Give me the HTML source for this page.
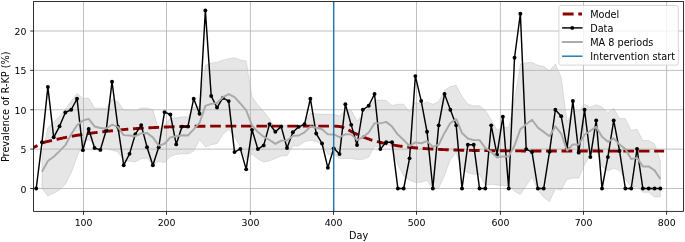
<!DOCTYPE html>
<html><head><meta charset="utf-8"><title>chart</title><style>html,body{margin:0;padding:0;background:#fff}svg{display:block}</style></head><body>
<svg width="685" height="242" viewBox="0 0 685 242" font-family="DejaVu Sans, Liberation Sans, sans-serif" font-size="9.7" fill="#000">
<rect width="685" height="242" fill="#fff"/>
<clipPath id="c"><rect x="33.6" y="1.5" width="649.9" height="209.85"/></clipPath>
<g clip-path="url(#c)">
<path d="M42.03,154.64 L47.87,127.86 L53.70,121.96 L59.53,116.44 L65.37,108.96 L71.20,101.32 L77.03,93.61 L82.87,98.27 L88.70,98.02 L94.53,107.97 L100.37,108.01 L106.20,108.51 L112.03,99.03 L117.87,101.87 L123.70,109.81 L129.53,109.92 L135.37,110.69 L141.20,108.05 L147.03,107.95 L152.87,109.93 L158.70,129.75 L164.53,124.90 L170.37,118.28 L176.20,117.99 L182.03,116.73 L187.87,117.02 L193.70,107.70 L199.53,106.35 L205.37,65.08 L211.20,63.01 L217.03,62.34 L222.87,60.13 L228.70,58.77 L234.53,57.70 L240.37,59.92 L246.20,60.97 L252.03,96.70 L257.87,105.02 L263.70,111.36 L269.53,119.04 L275.37,129.15 L281.20,125.27 L287.03,125.22 L292.87,125.86 L298.70,125.18 L304.53,123.07 L310.37,112.93 L316.20,113.95 L322.03,114.34 L327.87,114.29 L333.70,114.30 L339.53,115.91 L345.37,110.21 L351.20,110.31 L357.03,120.78 L362.87,115.02 L368.70,107.97 L374.53,100.09 L380.37,100.06 L386.20,100.52 L392.03,105.53 L397.87,104.25 L403.70,104.16 L409.53,112.02 L415.37,102.22 L421.20,104.22 L427.03,101.95 L432.87,104.27 L438.70,101.49 L444.53,90.44 L450.37,86.60 L456.20,85.27 L462.03,96.44 L467.87,104.19 L473.70,105.86 L479.53,105.86 L485.37,110.52 L491.20,119.61 L497.03,130.05 L502.87,127.39 L508.70,127.39 L514.53,99.97 L520.37,63.94 L526.20,62.75 L532.03,62.43 L537.87,65.31 L543.70,66.37 L549.53,70.73 L555.37,64.03 L561.20,77.39 L567.03,121.90 L572.87,110.90 L578.70,110.95 L584.53,104.44 L590.37,107.19 L596.20,104.68 L602.03,107.02 L607.87,112.65 L613.70,108.38 L619.53,118.60 L625.37,118.76 L631.20,130.47 L637.03,129.22 L642.87,140.49 L648.70,140.49 L654.53,143.66 L660.37,160.98 L660.37,196.72 L654.53,197.01 L648.70,192.33 L642.87,192.33 L637.03,186.57 L631.20,187.37 L625.37,179.39 L619.53,170.60 L613.70,168.31 L607.87,171.03 L602.03,166.45 L596.20,149.10 L590.37,154.41 L584.53,165.00 L578.70,178.18 L572.87,178.10 L567.03,179.15 L561.20,189.99 L555.37,188.75 L549.53,201.73 L543.70,197.35 L537.87,189.95 L532.03,177.04 L526.20,185.81 L520.37,194.47 L514.53,191.19 L508.70,185.50 L502.87,185.50 L497.03,185.01 L491.20,184.23 L485.37,185.49 L479.53,174.35 L473.70,174.35 L467.87,172.80 L462.03,169.61 L456.20,152.67 L450.37,159.59 L444.53,175.45 L438.70,188.02 L432.87,189.45 L427.03,180.20 L421.20,182.26 L415.37,182.52 L409.53,180.15 L403.70,175.86 L397.87,164.88 L392.03,147.70 L386.20,143.22 L380.37,146.64 L374.53,146.42 L368.70,157.01 L362.87,159.37 L357.03,159.55 L351.20,158.47 L345.37,158.43 L339.53,158.38 L333.70,154.54 L327.87,154.45 L322.03,144.08 L316.20,141.56 L310.37,140.22 L304.53,141.75 L298.70,145.85 L292.87,145.91 L287.03,155.82 L281.20,156.01 L275.37,158.50 L269.53,160.94 L263.70,162.08 L257.87,158.97 L252.03,154.00 L246.20,159.91 L240.37,147.04 L234.53,136.72 L228.70,129.27 L222.87,134.29 L217.03,143.70 L211.20,144.73 L205.37,146.70 L199.53,139.59 L193.70,151.12 L187.87,153.90 L182.03,153.82 L176.20,154.45 L170.37,156.52 L164.53,162.58 L158.70,161.37 L152.87,164.85 L147.03,158.11 L141.20,158.70 L135.37,161.77 L129.53,161.26 L123.70,160.45 L117.87,151.77 L112.03,150.37 L106.20,148.55 L100.37,148.05 L94.53,144.94 L88.70,139.63 L82.87,142.67 L77.03,156.91 L71.20,172.75 L65.37,184.17 L59.53,190.07 L53.70,193.22 L47.87,195.98 L42.03,188.50Z" fill="#808080" fill-opacity="0.2" stroke="#808080" stroke-opacity="0.2" stroke-width="1" stroke-linejoin="miter"/>
<line x1="83.5" x2="83.5" y1="1.5" y2="211.35" stroke="#b0b0b0" stroke-width="0.8"/>
<line x1="166.5" x2="166.5" y1="1.5" y2="211.35" stroke="#b0b0b0" stroke-width="0.8"/>
<line x1="250.4" x2="250.4" y1="1.5" y2="211.35" stroke="#b0b0b0" stroke-width="0.8"/>
<line x1="333.5" x2="333.5" y1="1.5" y2="211.35" stroke="#b0b0b0" stroke-width="0.8"/>
<line x1="416.5" x2="416.5" y1="1.5" y2="211.35" stroke="#b0b0b0" stroke-width="0.8"/>
<line x1="500.4" x2="500.4" y1="1.5" y2="211.35" stroke="#b0b0b0" stroke-width="0.8"/>
<line x1="583.5" x2="583.5" y1="1.5" y2="211.35" stroke="#b0b0b0" stroke-width="0.8"/>
<line x1="666.6" x2="666.6" y1="1.5" y2="211.35" stroke="#b0b0b0" stroke-width="0.8"/>
<line x1="33.6" x2="683.5" y1="188.50" y2="188.50" stroke="#b0b0b0" stroke-width="0.8"/>
<line x1="33.6" x2="683.5" y1="149.12" y2="149.12" stroke="#b0b0b0" stroke-width="0.8"/>
<line x1="33.6" x2="683.5" y1="109.75" y2="109.75" stroke="#b0b0b0" stroke-width="0.8"/>
<line x1="33.6" x2="683.5" y1="70.38" y2="70.38" stroke="#b0b0b0" stroke-width="0.8"/>
<line x1="33.6" x2="683.5" y1="31.00" y2="31.00" stroke="#b0b0b0" stroke-width="0.8"/>
<path d="M29.13,150.01 L29.97,149.56 L30.80,149.11 L31.63,148.66 L32.47,148.22 L33.30,147.77 L34.13,147.32 L34.97,146.86 L35.80,146.38 L36.63,145.89 L37.47,145.40 L38.30,144.93 L39.13,144.47 L39.97,144.03 L40.80,143.63 L41.63,143.27 L42.47,142.95 L43.30,142.67 L44.13,142.41 L44.97,142.16 L45.80,141.93 L46.63,141.71 L47.47,141.50 L48.30,141.30 L49.13,141.10 L49.97,140.91 L50.80,140.73 L51.63,140.54 L52.47,140.36 L53.30,140.17 L54.13,139.99 L54.97,139.79 L55.80,139.60 L56.63,139.41 L57.47,139.22 L58.30,139.03 L59.13,138.85 L59.97,138.67 L60.80,138.49 L61.63,138.31 L62.47,138.13 L63.30,137.95 L64.13,137.78 L64.97,137.61 L65.80,137.44 L66.63,137.27 L67.47,137.11 L68.30,136.94 L69.13,136.78 L69.97,136.62 L70.80,136.45 L71.63,136.30 L72.47,136.14 L73.30,135.98 L74.13,135.83 L74.97,135.68 L75.80,135.53 L76.63,135.38 L77.47,135.23 L78.30,135.09 L79.13,134.95 L79.97,134.82 L80.80,134.68 L81.63,134.55 L82.47,134.42 L83.30,134.29 L84.13,134.17 L84.97,134.04 L85.80,133.92 L86.63,133.80 L87.47,133.68 L88.30,133.56 L89.13,133.44 L89.97,133.33 L90.80,133.22 L91.63,133.10 L92.47,132.99 L93.30,132.89 L94.13,132.78 L94.97,132.67 L95.80,132.57 L96.63,132.47 L97.47,132.37 L98.30,132.27 L99.13,132.17 L99.97,132.07 L100.80,131.97 L101.63,131.88 L102.47,131.78 L103.30,131.69 L104.13,131.59 L104.97,131.50 L105.80,131.41 L106.63,131.31 L107.47,131.22 L108.30,131.13 L109.13,131.05 L109.97,130.96 L110.80,130.87 L111.63,130.78 L112.47,130.70 L113.30,130.61 L114.13,130.52 L114.97,130.44 L115.80,130.35 L116.63,130.26 L117.47,130.17 L118.30,130.08 L119.13,130.00 L119.97,129.91 L120.80,129.82 L121.63,129.74 L122.47,129.65 L123.30,129.57 L124.13,129.49 L124.97,129.41 L125.80,129.34 L126.63,129.26 L127.47,129.19 L128.30,129.12 L129.13,129.06 L129.97,128.99 L130.80,128.93 L131.63,128.87 L132.47,128.81 L133.30,128.75 L134.13,128.69 L134.97,128.64 L135.80,128.58 L136.63,128.52 L137.47,128.47 L138.30,128.42 L139.13,128.36 L139.97,128.31 L140.80,128.26 L141.63,128.21 L142.47,128.16 L143.30,128.11 L144.13,128.06 L144.97,128.02 L145.80,127.97 L146.63,127.93 L147.47,127.88 L148.30,127.84 L149.13,127.79 L149.97,127.75 L150.80,127.71 L151.63,127.67 L152.47,127.63 L153.30,127.59 L154.13,127.55 L154.97,127.51 L155.80,127.47 L156.63,127.43 L157.47,127.39 L158.30,127.36 L159.13,127.32 L159.97,127.28 L160.80,127.25 L161.63,127.21 L162.47,127.17 L163.30,127.14 L164.13,127.10 L164.97,127.07 L165.80,127.04 L166.63,127.00 L167.47,126.97 L168.30,126.94 L169.13,126.91 L169.97,126.88 L170.80,126.85 L171.63,126.82 L172.47,126.79 L173.30,126.76 L174.13,126.74 L174.97,126.71 L175.80,126.69 L176.63,126.66 L177.47,126.64 L178.30,126.62 L179.13,126.60 L179.97,126.58 L180.80,126.55 L181.63,126.53 L182.47,126.51 L183.30,126.49 L184.13,126.47 L184.97,126.45 L185.80,126.43 L186.63,126.41 L187.47,126.40 L188.30,126.38 L189.13,126.36 L189.97,126.34 L190.80,126.33 L191.63,126.31 L192.47,126.30 L193.30,126.28 L194.13,126.27 L194.97,126.26 L195.80,126.25 L196.63,126.24 L197.47,126.23 L198.30,126.22 L199.13,126.21 L199.97,126.21 L200.80,126.20 L201.63,126.20 L202.47,126.20 L203.30,126.19 L204.13,126.19 L204.97,126.18 L205.80,126.18 L206.63,126.18 L207.47,126.17 L208.30,126.17 L209.13,126.16 L209.97,126.16 L210.80,126.16 L211.63,126.16 L212.47,126.15 L213.30,126.15 L214.13,126.15 L214.97,126.14 L215.80,126.14 L216.63,126.14 L217.47,126.14 L218.30,126.14 L219.13,126.14 L219.97,126.13 L220.80,126.13 L221.63,126.13 L222.47,126.13 L223.30,126.13 L224.13,126.13 L224.97,126.13 L225.80,126.13 L226.63,126.13 L227.47,126.13 L228.30,126.13 L229.13,126.13 L229.97,126.13 L230.80,126.13 L231.63,126.13 L232.47,126.13 L233.30,126.13 L234.13,126.13 L234.97,126.13 L235.80,126.13 L236.63,126.13 L237.47,126.13 L238.30,126.13 L239.13,126.13 L239.97,126.13 L240.80,126.13 L241.63,126.13 L242.47,126.13 L243.30,126.13 L244.13,126.13 L244.97,126.13 L245.80,126.13 L246.63,126.13 L247.47,126.13 L248.30,126.13 L249.13,126.13 L249.97,126.13 L250.80,126.13 L251.63,126.13 L252.47,126.13 L253.30,126.13 L254.13,126.13 L254.97,126.13 L255.80,126.13 L256.63,126.13 L257.47,126.13 L258.30,126.13 L259.13,126.13 L259.97,126.13 L260.80,126.13 L261.63,126.13 L262.47,126.13 L263.30,126.13 L264.13,126.13 L264.97,126.13 L265.80,126.13 L266.63,126.13 L267.47,126.13 L268.30,126.13 L269.13,126.13 L269.97,126.13 L270.80,126.13 L271.63,126.13 L272.47,126.13 L273.30,126.13 L274.13,126.13 L274.97,126.13 L275.80,126.13 L276.63,126.13 L277.47,126.13 L278.30,126.13 L279.13,126.13 L279.97,126.13 L280.80,126.13 L281.63,126.13 L282.47,126.13 L283.30,126.13 L284.13,126.13 L284.97,126.13 L285.80,126.13 L286.63,126.13 L287.47,126.13 L288.30,126.13 L289.13,126.13 L289.97,126.13 L290.80,126.13 L291.63,126.13 L292.47,126.13 L293.30,126.13 L294.13,126.13 L294.97,126.13 L295.80,126.13 L296.63,126.13 L297.47,126.13 L298.30,126.13 L299.13,126.13 L299.97,126.13 L300.80,126.13 L301.63,126.13 L302.47,126.13 L303.30,126.13 L304.13,126.13 L304.97,126.13 L305.80,126.13 L306.63,126.13 L307.47,126.13 L308.30,126.13 L309.13,126.13 L309.97,126.13 L310.80,126.13 L311.63,126.13 L312.47,126.13 L313.30,126.13 L314.13,126.13 L314.97,126.13 L315.80,126.13 L316.63,126.13 L317.47,126.13 L318.30,126.13 L319.13,126.13 L319.97,126.13 L320.80,126.13 L321.63,126.13 L322.47,126.13 L323.30,126.13 L324.13,126.13 L324.97,126.13 L325.80,126.13 L326.63,126.13 L327.47,126.13 L328.30,126.13 L329.13,126.13 L329.97,126.13 L330.80,126.13 L331.63,126.13 L332.47,126.14 L333.30,126.14 L334.13,126.15 L334.97,126.17 L335.80,126.19 L336.63,126.23 L337.47,126.28 L338.30,126.36 L339.13,126.46 L339.97,126.59 L340.80,126.75 L341.63,126.96 L342.47,127.20 L343.30,127.49 L344.13,127.81 L344.97,128.17 L345.80,128.56 L346.63,128.97 L347.47,129.40 L348.30,129.85 L349.13,130.30 L349.97,130.75 L350.80,131.20 L351.63,131.65 L352.47,132.09 L353.30,132.52 L354.13,132.95 L354.97,133.36 L355.80,133.77 L356.63,134.17 L357.47,134.56 L358.30,134.94 L359.13,135.31 L359.97,135.67 L360.80,136.03 L361.63,136.37 L362.47,136.71 L363.30,137.04 L364.13,137.36 L364.97,137.68 L365.80,137.99 L366.63,138.38 L367.47,138.67 L368.30,138.95 L369.13,139.23 L369.97,139.51 L370.80,139.77 L371.63,140.03 L372.47,140.29 L373.30,140.53 L374.13,140.78 L374.97,141.01 L375.80,141.25 L376.63,141.47 L377.47,141.69 L378.30,141.91 L379.13,142.12 L379.97,142.33 L380.80,142.53 L381.63,142.73 L382.47,142.92 L383.30,143.11 L384.13,143.29 L384.97,143.47 L385.80,143.64 L386.63,143.82 L387.47,143.98 L388.30,144.15 L389.13,144.31 L389.97,144.46 L390.80,144.61 L391.63,144.76 L392.47,144.91 L393.30,145.05 L394.13,145.19 L394.97,145.33 L395.80,145.46 L396.63,145.59 L397.47,145.71 L398.30,145.84 L399.13,145.96 L399.97,146.08 L400.80,146.19 L401.63,146.31 L402.47,146.42 L403.30,146.52 L404.13,146.63 L404.97,146.73 L405.80,146.83 L406.63,146.93 L407.47,147.02 L408.30,147.12 L409.13,147.21 L409.97,147.30 L410.80,147.39 L411.63,147.47 L412.47,147.55 L413.30,147.64 L414.13,147.72 L414.97,147.79 L415.80,147.87 L416.63,147.94 L417.47,148.02 L418.30,148.09 L419.13,148.16 L419.97,148.22 L420.80,148.29 L421.63,148.35 L422.47,148.42 L423.30,148.48 L424.13,148.54 L424.97,148.60 L425.80,148.65 L426.63,148.71 L427.47,148.76 L428.30,148.82 L429.13,148.87 L429.97,148.92 L430.80,148.97 L431.63,149.02 L432.47,149.07 L433.30,149.11 L434.13,149.16 L434.97,149.20 L435.80,149.25 L436.63,149.29 L437.47,149.33 L438.30,149.37 L439.13,149.41 L439.97,149.45 L440.80,149.49 L441.63,149.53 L442.47,149.56 L443.30,149.60 L444.13,149.63 L444.97,149.66 L445.80,149.70 L446.63,149.73 L447.47,149.76 L448.30,149.79 L449.13,149.82 L449.97,149.85 L450.80,149.88 L451.63,149.91 L452.47,149.93 L453.30,149.96 L454.13,149.99 L454.97,150.01 L455.80,150.04 L456.63,150.06 L457.47,150.09 L458.30,150.11 L459.13,150.13 L459.97,150.15 L460.80,150.18 L461.63,150.20 L462.47,150.22 L463.30,150.24 L464.13,150.26 L464.97,150.28 L465.80,150.29 L466.63,150.31 L467.47,150.33 L468.30,150.35 L469.13,150.37 L469.97,150.38 L470.80,150.40 L471.63,150.41 L472.47,150.43 L473.30,150.45 L474.13,150.46 L474.97,150.48 L475.80,150.49 L476.63,150.50 L477.47,150.52 L478.30,150.53 L479.13,150.54 L479.97,150.56 L480.80,150.57 L481.63,150.58 L482.47,150.59 L483.30,150.60 L484.13,150.61 L484.97,150.63 L485.80,150.64 L486.63,150.65 L487.47,150.66 L488.30,150.67 L489.13,150.68 L489.97,150.69 L490.80,150.70 L491.63,150.71 L492.47,150.71 L493.30,150.72 L494.13,150.73 L494.97,150.74 L495.80,150.75 L496.63,150.76 L497.47,150.76 L498.30,150.77 L499.13,150.78 L499.97,150.79 L500.80,150.79 L501.63,150.80 L502.47,150.81 L503.30,150.81 L504.13,150.82 L504.97,150.83 L505.80,150.83 L506.63,150.84 L507.47,150.84 L508.30,150.85 L509.13,150.86 L509.97,150.86 L510.80,150.87 L511.63,150.87 L512.47,150.88 L513.30,150.88 L514.13,150.89 L514.97,150.89 L515.80,150.90 L516.63,150.90 L517.47,150.90 L518.30,150.91 L519.13,150.91 L519.97,150.92 L520.80,150.92 L521.63,150.93 L522.47,150.93 L523.30,150.93 L524.13,150.94 L524.97,150.94 L525.80,150.94 L526.63,150.95 L527.47,150.95 L528.30,150.95 L529.13,150.96 L529.97,150.96 L530.80,150.96 L531.63,150.97 L532.47,150.97 L533.30,150.97 L534.13,150.98 L534.97,150.98 L535.80,150.98 L536.63,150.98 L537.47,150.99 L538.30,150.99 L539.13,150.99 L539.97,150.99 L540.80,151.00 L541.63,151.00 L542.47,151.00 L543.30,151.00 L544.13,151.00 L544.97,151.01 L545.80,151.01 L546.63,151.01 L547.47,151.01 L548.30,151.01 L549.13,151.02 L549.97,151.02 L550.80,151.02 L551.63,151.02 L552.47,151.02 L553.30,151.02 L554.13,151.03 L554.97,151.03 L555.80,151.03 L556.63,151.03 L557.47,151.03 L558.30,151.03 L559.13,151.03 L559.97,151.04 L560.80,151.04 L561.63,151.04 L562.47,151.04 L563.30,151.04 L564.13,151.04 L564.97,151.04 L565.80,151.04 L566.63,151.05 L567.47,151.05 L568.30,151.05 L569.13,151.05 L569.97,151.05 L570.80,151.05 L571.63,151.05 L572.47,151.05 L573.30,151.05 L574.13,151.05 L574.97,151.06 L575.80,151.06 L576.63,151.06 L577.47,151.06 L578.30,151.06 L579.13,151.06 L579.97,151.06 L580.80,151.06 L581.63,151.06 L582.47,151.06 L583.30,151.06 L584.13,151.06 L584.97,151.07 L585.80,151.07 L586.63,151.07 L587.47,151.07 L588.30,151.07 L589.13,151.07 L589.97,151.07 L590.80,151.07 L591.63,151.07 L592.47,151.07 L593.30,151.07 L594.13,151.07 L594.97,151.07 L595.80,151.07 L596.63,151.07 L597.47,151.07 L598.30,151.07 L599.13,151.07 L599.97,151.07 L600.80,151.08 L601.63,151.08 L602.47,151.08 L603.30,151.08 L604.13,151.08 L604.97,151.08 L605.80,151.08 L606.63,151.08 L607.47,151.08 L608.30,151.08 L609.13,151.08 L609.97,151.08 L610.80,151.08 L611.63,151.08 L612.47,151.08 L613.30,151.08 L614.13,151.08 L614.97,151.08 L615.80,151.08 L616.63,151.08 L617.47,151.08 L618.30,151.08 L619.13,151.08 L619.97,151.08 L620.80,151.08 L621.63,151.08 L622.47,151.08 L623.30,151.08 L624.13,151.08 L624.97,151.08 L625.80,151.08 L626.63,151.08 L627.47,151.08 L628.30,151.09 L629.13,151.09 L629.97,151.09 L630.80,151.09 L631.63,151.09 L632.47,151.09 L633.30,151.09 L634.13,151.09 L634.97,151.09 L635.80,151.09 L636.63,151.09 L637.47,151.09 L638.30,151.09 L639.13,151.09 L639.97,151.09 L640.80,151.09 L641.63,151.09 L642.47,151.09 L643.30,151.09 L644.13,151.09 L644.97,151.09 L645.80,151.09 L646.63,151.09 L647.47,151.09 L648.30,151.09 L649.13,151.09 L649.97,151.09 L650.80,151.09 L651.63,151.09 L652.47,151.09 L653.30,151.09 L654.13,151.09 L654.97,151.09 L655.80,151.09 L656.63,151.09 L657.47,151.09 L658.30,151.09 L659.13,151.09 L659.97,151.09 L660.80,151.09 L661.63,151.09 L662.47,151.09 L663.30,151.09 L664.13,151.09" fill="none" stroke="#8b0000" stroke-width="2.9" stroke-dasharray="10.73 4.71" stroke-dashoffset="1.2"/>
<path d="M36.20,188.50 L42.03,142.19 L47.87,86.91 L53.70,137.31 L59.53,126.29 L65.37,112.43 L71.20,109.75 L77.03,98.72 L82.87,150.15 L88.70,129.04 L94.53,147.94 L100.37,149.91 L106.20,130.30 L112.03,81.79 L117.87,126.68 L123.70,165.19 L129.53,153.85 L135.37,134.16 L141.20,125.11 L147.03,147.16 L152.87,165.19 L158.70,147.16 L164.53,112.11 L170.37,114.47 L176.20,144.40 L182.03,126.60 L187.87,126.60 L193.70,98.72 L199.53,113.69 L205.37,10.52 L211.20,95.97 L217.03,107.62 L222.87,97.94 L228.70,101.09 L234.53,152.12 L240.37,148.89 L246.20,169.36 L252.03,129.83 L257.87,149.12 L263.70,145.42 L269.53,124.08 L275.37,131.80 L281.20,126.60 L287.03,147.94 L292.87,132.27 L298.70,126.84 L304.53,124.32 L310.37,98.72 L316.20,133.53 L322.03,143.46 L327.87,167.87 L333.70,148.34 L339.53,154.09 L345.37,104.24 L351.20,124.87 L357.03,144.95 L362.87,109.75 L368.70,105.81 L374.53,94.00 L380.37,149.12 L386.20,142.19 L392.03,142.19 L397.87,188.50 L403.70,188.50 L409.53,158.34 L415.37,76.12 L421.20,100.93 L427.03,131.80 L432.87,188.50 L438.70,125.34 L444.53,94.00 L450.37,109.75 L456.20,125.34 L462.03,188.50 L467.87,144.72 L473.70,144.72 L479.53,188.50 L485.37,188.50 L491.20,125.34 L497.03,154.64 L502.87,116.68 L508.70,188.50 L514.53,57.77 L520.37,13.68 L526.20,149.12 L532.03,152.12 L537.87,188.50 L543.70,188.50 L549.53,151.65 L555.37,109.75 L561.20,116.21 L567.03,148.34 L572.87,100.93 L578.70,152.67 L584.53,109.75 L590.37,157.08 L596.20,120.38 L602.03,188.50 L607.87,157.08 L613.70,120.38 L619.53,150.94 L625.37,188.50 L631.20,188.50 L637.03,148.89 L642.87,188.50 L648.70,188.50 L654.53,188.50 L660.37,188.50" fill="none" stroke="#000" stroke-width="1.45" stroke-linejoin="round"/>
<circle cx="36.20" cy="188.50" r="1.95"/>
<circle cx="42.03" cy="142.19" r="1.95"/>
<circle cx="47.87" cy="86.91" r="1.95"/>
<circle cx="53.70" cy="137.31" r="1.95"/>
<circle cx="59.53" cy="126.29" r="1.95"/>
<circle cx="65.37" cy="112.43" r="1.95"/>
<circle cx="71.20" cy="109.75" r="1.95"/>
<circle cx="77.03" cy="98.72" r="1.95"/>
<circle cx="82.87" cy="150.15" r="1.95"/>
<circle cx="88.70" cy="129.04" r="1.95"/>
<circle cx="94.53" cy="147.94" r="1.95"/>
<circle cx="100.37" cy="149.91" r="1.95"/>
<circle cx="106.20" cy="130.30" r="1.95"/>
<circle cx="112.03" cy="81.79" r="1.95"/>
<circle cx="117.87" cy="126.68" r="1.95"/>
<circle cx="123.70" cy="165.19" r="1.95"/>
<circle cx="129.53" cy="153.85" r="1.95"/>
<circle cx="135.37" cy="134.16" r="1.95"/>
<circle cx="141.20" cy="125.11" r="1.95"/>
<circle cx="147.03" cy="147.16" r="1.95"/>
<circle cx="152.87" cy="165.19" r="1.95"/>
<circle cx="158.70" cy="147.16" r="1.95"/>
<circle cx="164.53" cy="112.11" r="1.95"/>
<circle cx="170.37" cy="114.47" r="1.95"/>
<circle cx="176.20" cy="144.40" r="1.95"/>
<circle cx="182.03" cy="126.60" r="1.95"/>
<circle cx="187.87" cy="126.60" r="1.95"/>
<circle cx="193.70" cy="98.72" r="1.95"/>
<circle cx="199.53" cy="113.69" r="1.95"/>
<circle cx="205.37" cy="10.52" r="1.95"/>
<circle cx="211.20" cy="95.97" r="1.95"/>
<circle cx="217.03" cy="107.62" r="1.95"/>
<circle cx="222.87" cy="97.94" r="1.95"/>
<circle cx="228.70" cy="101.09" r="1.95"/>
<circle cx="234.53" cy="152.12" r="1.95"/>
<circle cx="240.37" cy="148.89" r="1.95"/>
<circle cx="246.20" cy="169.36" r="1.95"/>
<circle cx="252.03" cy="129.83" r="1.95"/>
<circle cx="257.87" cy="149.12" r="1.95"/>
<circle cx="263.70" cy="145.42" r="1.95"/>
<circle cx="269.53" cy="124.08" r="1.95"/>
<circle cx="275.37" cy="131.80" r="1.95"/>
<circle cx="281.20" cy="126.60" r="1.95"/>
<circle cx="287.03" cy="147.94" r="1.95"/>
<circle cx="292.87" cy="132.27" r="1.95"/>
<circle cx="298.70" cy="126.84" r="1.95"/>
<circle cx="304.53" cy="124.32" r="1.95"/>
<circle cx="310.37" cy="98.72" r="1.95"/>
<circle cx="316.20" cy="133.53" r="1.95"/>
<circle cx="322.03" cy="143.46" r="1.95"/>
<circle cx="327.87" cy="167.87" r="1.95"/>
<circle cx="333.70" cy="148.34" r="1.95"/>
<circle cx="339.53" cy="154.09" r="1.95"/>
<circle cx="345.37" cy="104.24" r="1.95"/>
<circle cx="351.20" cy="124.87" r="1.95"/>
<circle cx="357.03" cy="144.95" r="1.95"/>
<circle cx="362.87" cy="109.75" r="1.95"/>
<circle cx="368.70" cy="105.81" r="1.95"/>
<circle cx="374.53" cy="94.00" r="1.95"/>
<circle cx="380.37" cy="149.12" r="1.95"/>
<circle cx="386.20" cy="142.19" r="1.95"/>
<circle cx="392.03" cy="142.19" r="1.95"/>
<circle cx="397.87" cy="188.50" r="1.95"/>
<circle cx="403.70" cy="188.50" r="1.95"/>
<circle cx="409.53" cy="158.34" r="1.95"/>
<circle cx="415.37" cy="76.12" r="1.95"/>
<circle cx="421.20" cy="100.93" r="1.95"/>
<circle cx="427.03" cy="131.80" r="1.95"/>
<circle cx="432.87" cy="188.50" r="1.95"/>
<circle cx="438.70" cy="125.34" r="1.95"/>
<circle cx="444.53" cy="94.00" r="1.95"/>
<circle cx="450.37" cy="109.75" r="1.95"/>
<circle cx="456.20" cy="125.34" r="1.95"/>
<circle cx="462.03" cy="188.50" r="1.95"/>
<circle cx="467.87" cy="144.72" r="1.95"/>
<circle cx="473.70" cy="144.72" r="1.95"/>
<circle cx="479.53" cy="188.50" r="1.95"/>
<circle cx="485.37" cy="188.50" r="1.95"/>
<circle cx="491.20" cy="125.34" r="1.95"/>
<circle cx="497.03" cy="154.64" r="1.95"/>
<circle cx="502.87" cy="116.68" r="1.95"/>
<circle cx="508.70" cy="188.50" r="1.95"/>
<circle cx="514.53" cy="57.77" r="1.95"/>
<circle cx="520.37" cy="13.68" r="1.95"/>
<circle cx="526.20" cy="149.12" r="1.95"/>
<circle cx="532.03" cy="152.12" r="1.95"/>
<circle cx="537.87" cy="188.50" r="1.95"/>
<circle cx="543.70" cy="188.50" r="1.95"/>
<circle cx="549.53" cy="151.65" r="1.95"/>
<circle cx="555.37" cy="109.75" r="1.95"/>
<circle cx="561.20" cy="116.21" r="1.95"/>
<circle cx="567.03" cy="148.34" r="1.95"/>
<circle cx="572.87" cy="100.93" r="1.95"/>
<circle cx="578.70" cy="152.67" r="1.95"/>
<circle cx="584.53" cy="109.75" r="1.95"/>
<circle cx="590.37" cy="157.08" r="1.95"/>
<circle cx="596.20" cy="120.38" r="1.95"/>
<circle cx="602.03" cy="188.50" r="1.95"/>
<circle cx="607.87" cy="157.08" r="1.95"/>
<circle cx="613.70" cy="120.38" r="1.95"/>
<circle cx="619.53" cy="150.94" r="1.95"/>
<circle cx="625.37" cy="188.50" r="1.95"/>
<circle cx="631.20" cy="188.50" r="1.95"/>
<circle cx="637.03" cy="148.89" r="1.95"/>
<circle cx="642.87" cy="188.50" r="1.95"/>
<circle cx="648.70" cy="188.50" r="1.95"/>
<circle cx="654.53" cy="188.50" r="1.95"/>
<circle cx="660.37" cy="188.50" r="1.95"/>
<path d="M42.03,171.73 L47.87,161.09 L53.70,156.76 L59.53,151.17 L65.37,145.19 L71.20,134.16 L77.03,125.26 L82.87,120.47 L88.70,118.83 L94.53,126.45 L100.37,128.03 L106.20,128.53 L112.03,124.70 L117.87,126.82 L123.70,135.13 L129.53,135.59 L135.37,136.23 L141.20,133.38 L147.03,133.03 L152.87,137.39 L158.70,145.56 L164.53,143.74 L170.37,137.40 L176.20,136.22 L182.03,135.27 L187.87,135.46 L193.70,129.41 L199.53,122.97 L205.37,105.89 L211.20,103.87 L217.03,103.02 L222.87,97.21 L228.70,94.02 L234.53,97.21 L240.37,103.48 L246.20,110.44 L252.03,125.35 L257.87,132.00 L263.70,136.72 L269.53,139.99 L275.37,143.83 L281.20,140.64 L287.03,140.52 L292.87,135.89 L298.70,135.51 L304.53,132.41 L310.37,126.57 L316.20,127.75 L322.03,129.21 L327.87,134.37 L333.70,134.42 L339.53,137.15 L345.37,134.32 L351.20,134.39 L357.03,140.17 L362.87,137.19 L368.70,132.49 L374.53,123.26 L380.37,123.35 L386.20,121.87 L392.03,126.61 L397.87,134.57 L403.70,140.01 L409.53,146.08 L415.37,142.37 L421.20,143.24 L427.03,141.07 L432.87,146.86 L438.70,144.75 L444.53,132.94 L450.37,123.10 L456.20,118.97 L462.03,133.02 L467.87,138.49 L473.70,140.11 L479.53,140.11 L485.37,148.00 L491.20,151.92 L497.03,157.53 L502.87,156.45 L508.70,156.45 L514.53,145.58 L520.37,129.20 L526.20,124.28 L532.03,119.73 L537.87,127.63 L543.70,131.86 L549.53,136.23 L555.37,126.39 L561.20,133.69 L567.03,150.52 L572.87,144.50 L578.70,144.57 L584.53,134.72 L590.37,130.80 L596.20,126.89 L602.03,136.73 L607.87,141.84 L613.70,138.35 L619.53,144.60 L625.37,149.08 L631.20,158.92 L637.03,157.90 L642.87,166.41 L648.70,166.41 L654.53,170.34 L660.37,178.85" fill="none" stroke="#a9a9a9" stroke-width="1.95" stroke-linejoin="round"/>
<line x1="333.7" x2="333.7" y1="1.5" y2="211.35" stroke="#1f77b4" stroke-width="1.45"/>
</g>
<line x1="83.5" x2="83.5" y1="211.35" y2="214.75" stroke="#000" stroke-width="0.8"/>
<text x="83.60" y="225.7" text-anchor="middle" font-size="9.4">100</text>
<line x1="166.5" x2="166.5" y1="211.35" y2="214.75" stroke="#000" stroke-width="0.8"/>
<text x="166.60" y="225.7" text-anchor="middle" font-size="9.4">200</text>
<line x1="250.4" x2="250.4" y1="211.35" y2="214.75" stroke="#000" stroke-width="0.8"/>
<text x="250.50" y="225.7" text-anchor="middle" font-size="9.4">300</text>
<line x1="333.5" x2="333.5" y1="211.35" y2="214.75" stroke="#000" stroke-width="0.8"/>
<text x="333.60" y="225.7" text-anchor="middle" font-size="9.4">400</text>
<line x1="416.5" x2="416.5" y1="211.35" y2="214.75" stroke="#000" stroke-width="0.8"/>
<text x="416.60" y="225.7" text-anchor="middle" font-size="9.4">500</text>
<line x1="500.4" x2="500.4" y1="211.35" y2="214.75" stroke="#000" stroke-width="0.8"/>
<text x="500.50" y="225.7" text-anchor="middle" font-size="9.4">600</text>
<line x1="583.5" x2="583.5" y1="211.35" y2="214.75" stroke="#000" stroke-width="0.8"/>
<text x="583.60" y="225.7" text-anchor="middle" font-size="9.4">700</text>
<line x1="666.6" x2="666.6" y1="211.35" y2="214.75" stroke="#000" stroke-width="0.8"/>
<text x="666.70" y="225.7" text-anchor="middle" font-size="9.4">800</text>
<line x1="30.200000000000003" x2="33.6" y1="188.50" y2="188.50" stroke="#000" stroke-width="0.8"/>
<text x="26.5" y="192.60" text-anchor="end" font-size="9.4">0</text>
<line x1="30.200000000000003" x2="33.6" y1="149.12" y2="149.12" stroke="#000" stroke-width="0.8"/>
<text x="26.5" y="153.22" text-anchor="end" font-size="9.4">5</text>
<line x1="30.200000000000003" x2="33.6" y1="109.75" y2="109.75" stroke="#000" stroke-width="0.8"/>
<text x="26.5" y="113.85" text-anchor="end" font-size="9.4">10</text>
<line x1="30.200000000000003" x2="33.6" y1="70.38" y2="70.38" stroke="#000" stroke-width="0.8"/>
<text x="26.5" y="74.47" text-anchor="end" font-size="9.4">15</text>
<line x1="30.200000000000003" x2="33.6" y1="31.00" y2="31.00" stroke="#000" stroke-width="0.8"/>
<text x="26.5" y="35.10" text-anchor="end" font-size="9.4">20</text>
<rect x="33.6" y="1.5" width="649.9" height="209.85" fill="none" stroke="#000" stroke-width="0.8"/>
<text x="358.6" y="239.2" text-anchor="middle">Day</text>
<text transform="translate(8.9,106.8) rotate(-90)" text-anchor="middle">Prevalence of R-KP (%)</text>
<rect x="558.9" y="5.5" width="119.39999999999998" height="59.599999999999994" rx="2" fill="#fff" fill-opacity="0.8" stroke="#ccc" stroke-opacity="0.8" stroke-width="1"/>
<line x1="562.6999999999999" x2="582.0" y1="13.95" y2="13.95" stroke="#8b0000" stroke-width="2.9" stroke-dasharray="10.9 4.7"/>
<line x1="562.8" x2="581.8" y1="27.9" y2="27.9" stroke="#000" stroke-width="1.45" stroke-linecap="square"/>
<circle cx="572.3" cy="27.9" r="1.95"/>
<line x1="562.8" x2="581.8" y1="42.05" y2="42.05" stroke="#a9a9a9" stroke-width="1.95" stroke-linecap="square"/>
<line x1="562.8" x2="581.8" y1="56.2" y2="56.2" stroke="#1f77b4" stroke-width="1.45" stroke-linecap="square"/>
<text x="590.2" y="17.60">Model</text>
<text x="590.2" y="31.50">Data</text>
<text x="590.2" y="45.70">MA 8 periods</text>
<text x="590.2" y="59.50">Intervention start</text>
</svg>
</body></html>
